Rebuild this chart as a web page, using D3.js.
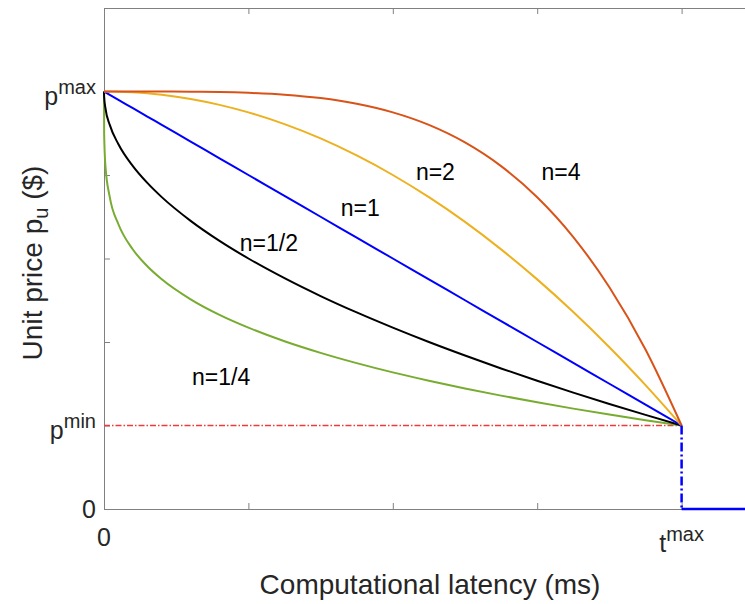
<!DOCTYPE html>
<html lang="en">
<head>
    <meta charset="UTF-8">
    <title>Unit price vs latency</title>
    <style>
        body { margin: 0; background: #fff; }
        text { font-family: "Liberation Sans", Arial, sans-serif; fill: #262626; }
    </style>
</head>
<body>
    <svg id="chart" width="745" height="604"></svg>
    <script src="https://d3js.org/d3.v7.min.js"></script>
    <script>
        // latency samples (ms, in units where tmax = 4)
        const latency = [0, 0.001, 0.01, 0.04, 0.1, 0.2, 0.3, 0.4, 0.6, 0.8, 1.0, 1.25, 1.5, 1.75, 2.0, 2.25, 2.5, 2.75, 3.0, 3.25, 3.5, 3.75, 4.0];

        // unit price (pmax = 5, pmin = 1)
        const priceQuarter = [5, 4.497, 4.106, 3.735, 3.410, 3.108, 2.907, 2.751, 2.511, 2.325, 2.172, 2.009, 1.870, 1.747, 1.636, 1.536, 1.443, 1.358, 1.278, 1.202, 1.131, 1.064, 1.0];
        const priceHalf    = [5, 4.937, 4.800, 4.600, 4.368, 4.106, 3.905, 3.735, 3.451, 3.211, 3.000, 2.764, 2.550, 2.354, 2.172, 2.000, 1.838, 1.683, 1.536, 1.394, 1.258, 1.127, 1.0];
        const priceOne     = [5, 4.999, 4.990, 4.960, 4.900, 4.800, 4.700, 4.600, 4.400, 4.200, 4.000, 3.750, 3.500, 3.250, 3.000, 2.750, 2.500, 2.250, 2.000, 1.750, 1.500, 1.250, 1.0];
        const priceTwo     = [5, 5.000, 5.000, 5.000, 4.998, 4.990, 4.978, 4.960, 4.910, 4.840, 4.750, 4.609, 4.438, 4.234, 4.000, 3.734, 3.438, 3.109, 2.750, 2.359, 1.938, 1.484, 1.0];
        const priceFour    = [5, 5.000, 5.000, 5.000, 5.000, 5.000, 5.000, 5.000, 4.998, 4.994, 4.984, 4.962, 4.921, 4.853, 4.750, 4.600, 4.390, 4.106, 3.734, 3.257, 2.655, 1.910, 1.0];

        const seriesNames = ["n=1/4", "n=1/2", "n=1", "n=2", "n=4"];
        const seriesColors = ["#77ac30", "#000000", "#0000ff", "#edb120", "#d95319"];
        const seriesValues = [priceQuarter, priceHalf, priceOne, priceTwo, priceFour];

        // label anchor points (latency, price) for each curve label
        const labelLatency = [0.61, 0.94, 1.64, 2.16, 3.03];
        const labelPrice   = [1.49, 3.09, 3.51, 3.94, 3.94];

        const pMin = 1, pMax = 5, tMax = 4;
        const stepLatency = [tMax, tMax, 5];
        const stepPrice = [pMin, 0, 0];

        const svg = d3.select("#chart");
        const x = d3.scaleLinear().domain([0, 5]).range([104, 826]);
        const y = d3.scaleLinear().domain([0, 6]).range([509, 8]);

        // axes with inward ticks
        const axisColor = "#808080";
        const gB = svg.append("g").attr("transform", `translate(0,${y(0)})`)
            .call(d3.axisBottom(x).tickValues([0, 1, 2, 3, 4]).tickSizeInner(-6).tickSizeOuter(0).tickFormat(""));
        const gT = svg.append("g").attr("transform", `translate(0,${y(6)})`)
            .call(d3.axisTop(x).tickValues([0, 1, 2, 3, 4]).tickSizeInner(-6).tickSizeOuter(0).tickFormat(""));
        const gL = svg.append("g").attr("transform", `translate(${x(0)},0)`)
            .call(d3.axisLeft(y).tickValues([0, 1, 2, 3, 4, 5, 6]).tickSizeInner(-6).tickSizeOuter(0).tickFormat(""));
        [gB, gT, gL].forEach(g => {
            g.selectAll("path, line").attr("stroke", axisColor).attr("stroke-width", 1);
        });

        // pmin reference line
        svg.append("path")
            .attr("d", `M${x(0)},${y(pMin)}H${x(tMax)}`)
            .attr("fill", "none")
            .style("stroke", "#ee3a3a").style("stroke-width", 1.4)
            .style("stroke-dasharray", "6,2,1.5,2");

        // price curves
        const line = d3.line().curve(d3.curveMonotoneX);
        seriesValues.forEach((vals, i) => {
            svg.append("path")
                .datum(latency.map((t, j) => [x(t), y(vals[j])]))
                .attr("d", line)
                .attr("fill", "none")
                .attr("stroke", seriesColors[i])
                .attr("stroke-width", 2);
        });

        // step beyond tmax
        svg.append("line")
            .attr("x1", x(stepLatency[0])).attr("x2", x(stepLatency[1]))
            .attr("y1", y(stepPrice[0])).attr("y2", y(stepPrice[1]))
            .attr("stroke", "#0000ff").attr("stroke-width", 2.5)
            .attr("stroke-dasharray", "9,3,2,3");
        svg.append("line")
            .attr("x1", x(stepLatency[1])).attr("x2", x(stepLatency[2]))
            .attr("y1", y(stepPrice[1])).attr("y2", y(stepPrice[2]))
            .attr("stroke", "#0000ff").attr("stroke-width", 2.5);

        // curve labels
        seriesNames.forEach((name, i) => {
            svg.append("text")
                .attr("x", x(labelLatency[i])).attr("y", y(labelPrice[i]))
                .attr("font-size", 23).style("fill", "#000")
                .text(name);
        });

        // tick labels with superscripts
        function supLabel(xp, yp, base, sup, anchor) {
            const t = svg.append("text").attr("x", xp).attr("y", yp)
                .attr("text-anchor", anchor).attr("font-size", 25);
            t.append("tspan").text(base);
            t.append("tspan").attr("font-size", 20).attr("dy", -11).text(sup);
        }
        supLabel(96, y(pMax) + 13, "p", "max", "end");
        supLabel(96, y(pMin) + 13, "p", "min", "end");
        svg.append("text").attr("x", 96).attr("y", y(0) + 9)
            .attr("text-anchor", "end").attr("font-size", 25).text("0");

        svg.append("text").attr("x", x(0)).attr("y", 546)
            .attr("text-anchor", "middle").attr("font-size", 25).text("0");
        supLabel(x(tMax), 552, "t", "max", "middle");

        // axis titles
        svg.append("text").attr("x", 430).attr("y", 594)
            .attr("text-anchor", "middle").attr("font-size", 28)
            .text("Computational latency (ms)");

        const yl = svg.append("text")
            .attr("transform", "translate(42,263) rotate(-90)")
            .attr("text-anchor", "middle").attr("font-size", 28);
        yl.append("tspan").text("Unit price p");
        yl.append("tspan").attr("font-size", 20).attr("dy", 6).text("u");
        yl.append("tspan").attr("dy", -6).text(" ($)");
    </script>
</body>
</html>
